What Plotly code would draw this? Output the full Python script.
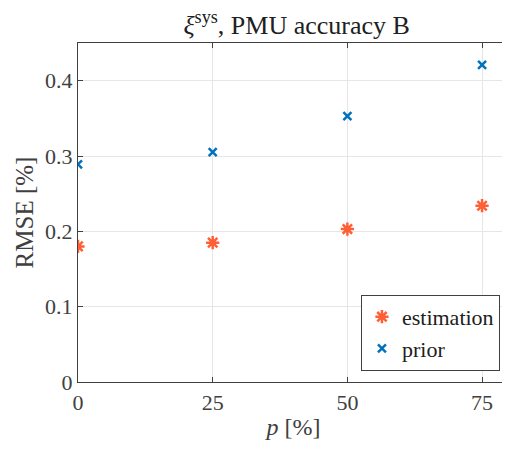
import plotly.graph_objects as go

p_vals = [0, 25, 50, 75]
estimation = [0.180, 0.185, 0.203, 0.234]
prior = [0.289, 0.305, 0.353, 0.421]
x_ticks = [0, 25, 50, 75]
y_ticks = [0, 0.1, 0.2, 0.3, 0.4]
y_tick_labels = ["0", "0.1", "0.2", "0.3", "0.4"]

FONT = "Liberation Serif"
AX = "#404040"

fig = go.Figure()
fig.add_trace(go.Scatter(
    x=p_vals, y=estimation, mode="markers", name="estimation",
    marker=dict(symbol="asterisk-open", size=11, color="#FF5F35",
                line=dict(width=2.5, color="#FF5F35")),
))
fig.add_trace(go.Scatter(
    x=p_vals, y=prior, mode="markers", name="prior",
    marker=dict(symbol="x-thin-open", size=8, color="#0072BD",
                line=dict(width=2.5, color="#0072BD")),
))

fig.update_layout(
    width=510, height=450,
    margin=dict(l=70, r=9, t=35, b=76, autoexpand=False),
    paper_bgcolor="white", plot_bgcolor="white",
    font=dict(family=FONT, size=22, color=AX),
    title=dict(text="<i>ξ</i><sup>sys</sup>, PMU accuracy B", x=0.566, xanchor="center",
               y=0.982, yanchor="top", font=dict(family=FONT, size=26, color="#202020")),
    showlegend=True,
    legend=dict(x=0.979, y=0.257, xanchor="right", yanchor="top",
                bgcolor="white", bordercolor=AX, borderwidth=1,
                font=dict(family=FONT, size=22, color="#202020"),
                itemwidth=30, tracegroupgap=0),
)
fig.update_xaxes(
    range=[0, 80], tickvals=x_ticks, ticktext=[str(v) for v in x_ticks],
    showgrid=True, gridcolor="#E6E6E6", gridwidth=1, automargin=False,
    showline=True, linecolor=AX, linewidth=1.2, mirror="ticks",
    ticks="inside", ticklen=5, tickcolor=AX, zeroline=False,
    title=dict(text="<i>p</i> [%]", font=dict(family=FONT, size=24, color=AX), standoff=4),
    tickfont=dict(family=FONT, size=22, color=AX),
)
fig.update_yaxes(
    range=[0, 0.45], tickvals=y_ticks, ticktext=y_tick_labels,
    showgrid=True, gridcolor="#E6E6E6", gridwidth=1, automargin=False,
    showline=True, linecolor=AX, linewidth=1.2, mirror="ticks",
    ticks="inside", ticklen=5, tickcolor=AX, zeroline=False,
    title=dict(text="RMSE [%]", font=dict(family=FONT, size=25, color=AX), standoff=4),
    tickfont=dict(family=FONT, size=22, color=AX),
)

fig.write_html("out.html")
